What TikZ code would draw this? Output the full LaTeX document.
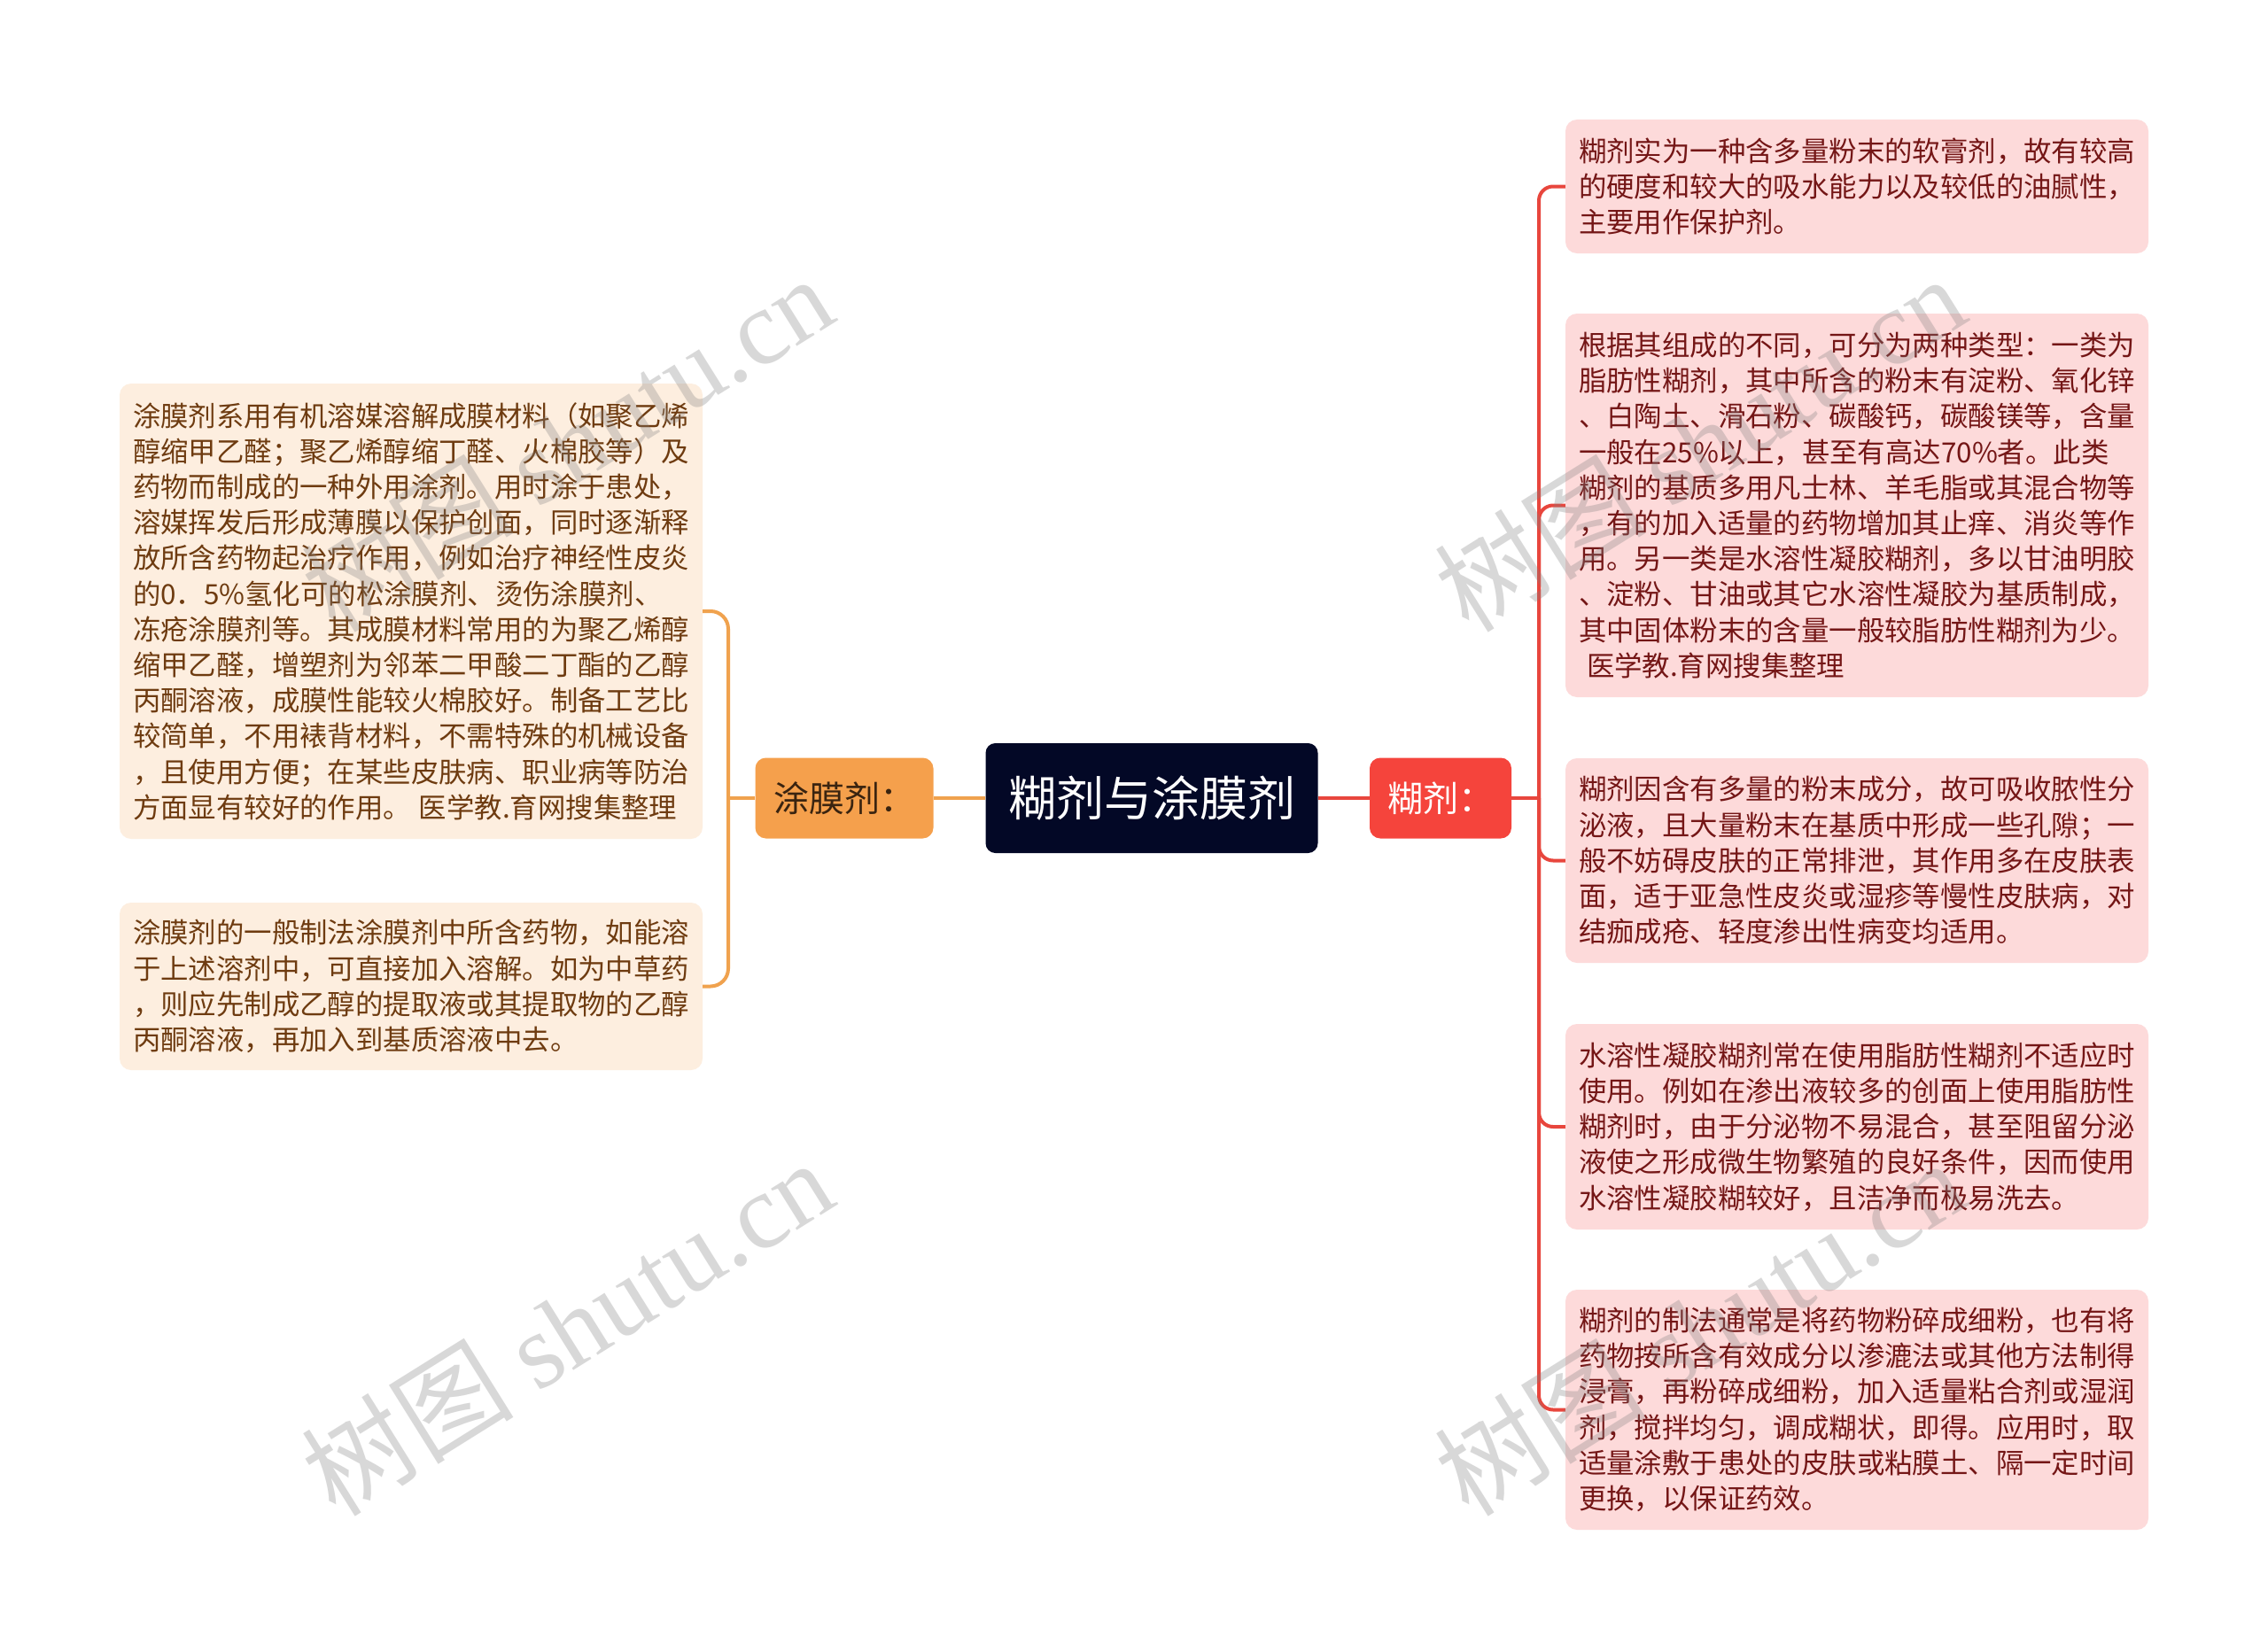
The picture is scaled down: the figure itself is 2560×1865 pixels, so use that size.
\documentclass[tikz,border=0pt]{standalone}
\usepackage{fontspec}
\setmainfont{Noto Sans CJK SC}
\newfontfamily\wmserif{Liberation Serif}
\begin{document}
\begin{tikzpicture}[x=1pt,y=-1pt,
  redline/.style={draw=lineRed,line width=4pt},
  orgline/.style={draw=lineOrg,line width=4pt},
  rbox/.style={fill=boxPink,rounded corners=13pt,minimum width=658pt,text width=628pt,inner xsep=15pt,inner ysep=0pt,align=left,text=txtRed,font=\fontsize{31.4pt}{40.2pt}\selectfont},
  lbox/.style={fill=boxPeach,rounded corners=13pt,minimum width=658pt,text width=628pt,inner xsep=15pt,inner ysep=0pt,align=left,text=txtBrown,font=\fontsize{31.4pt}{40.2pt}\selectfont},
  wm/.style={rotate=32,text=gray,opacity=0.3,font=\fontsize{120pt}{125pt}\selectfont}
]
\definecolor{lineRed}{HTML}{E8463D}
\definecolor{lineOrg}{HTML}{F0A24E}
\definecolor{boxPink}{HTML}{FDDADA}
\definecolor{boxPeach}{HTML}{FDEEDF}
\definecolor{txtRed}{HTML}{741616}
\definecolor{txtBrown}{HTML}{6E3B10}
\definecolor{centerFill}{HTML}{030826}
\definecolor{orgFill}{HTML}{F5A04C}
\definecolor{redFill}{HTML}{F5443C}
\definecolor{orgText}{HTML}{3A2410}

\path[use as bounding box,fill=white] (0,0) rectangle (2560,1865);

% central and branch nodes
\node[fill=centerFill,rounded corners=11pt,minimum width=375pt,minimum height=124pt,text=white,font=\fontsize{54pt}{60pt}\selectfont] (c) at (1300,901) {糊剂与涂膜剂};
\node[fill=orgFill,rounded corners=12pt,minimum width=201pt,minimum height=91pt,text=orgText,font=\fontsize{40pt}{46pt}\selectfont] (tmj) at (953,901) {涂膜剂：};
\node[fill=redFill,rounded corners=12pt,minimum width=160pt,minimum height=91pt,text=white,font=\fontsize{40pt}{46pt}\selectfont] (hj) at (1626,901) {糊剂：};

% right boxes
\node[rbox,minimum height=151pt] (r1) at (2096,210.5) {糊剂实为一种含多量粉末的软膏剂，故有较高\\的硬度和较大的吸水能力以及较低的油腻性，\\主要用作保护剂。};
\node[rbox,minimum height=433pt] (r2) at (2096,570.5) {根据其组成的不同，可分为两种类型：一类为\\脂肪性糊剂，其中所含的粉末有淀粉、氧化锌\\、白陶土、滑石粉、碳酸钙，碳酸镁等，含量\\一般在25\%以上，甚至有高达70\%者。此类\\糊剂的基质多用凡士林、羊毛脂或其混合物等\\，有的加入适量的药物增加其止痒、消炎等作\\用。另一类是水溶性凝胶糊剂，多以甘油明胶\\、淀粉、甘油或其它水溶性凝胶为基质制成，\\其中固体粉末的含量一般较脂肪性糊剂为少。\\\hspace*{9pt}医学教.育网搜集整理};
\node[rbox,minimum height=231pt] (r3) at (2096,971.5) {糊剂因含有多量的粉末成分，故可吸收脓性分\\泌液，且大量粉末在基质中形成一些孔隙；一\\般不妨碍皮肤的正常排泄，其作用多在皮肤表\\面，适于亚急性皮炎或湿疹等慢性皮肤病，对\\结痂成疮、轻度渗出性病变均适用。};
\node[rbox,minimum height=232pt] (r4) at (2096,1272) {水溶性凝胶糊剂常在使用脂肪性糊剂不适应时\\使用。例如在渗出液较多的创面上使用脂肪性\\糊剂时，由于分泌物不易混合，甚至阻留分泌\\液使之形成微生物繁殖的良好条件，因而使用\\水溶性凝胶糊较好，且洁净而极易洗去。};
\node[rbox,minimum height=271pt] (r5) at (2096,1591.5) {糊剂的制法通常是将药物粉碎成细粉，也有将\\药物按所含有效成分以渗漉法或其他方法制得\\浸膏，再粉碎成细粉，加入适量粘合剂或湿润\\剂，搅拌均匀，调成糊状，即得。应用时，取\\适量涂敷于患处的皮肤或粘膜土、隔一定时间\\更换，以保证药效。};

% left boxes
\node[lbox,minimum height=514pt] (l1) at (464,690) {涂膜剂系用有机溶媒溶解成膜材料（如聚乙烯\\醇缩甲乙醛；聚乙烯醇缩丁醛、火棉胶等）及\\药物而制成的一种外用涂剂。用时涂于患处，\\溶媒挥发后形成薄膜以保护创面，同时逐渐释\\放所含药物起治疗作用，例如治疗神经性皮炎\\的0．5\%氢化可的松涂膜剂、烫伤涂膜剂、\\冻疮涂膜剂等。其成膜材料常用的为聚乙烯醇\\缩甲乙醛，增塑剂为邻苯二甲酸二丁酯的乙醇\\丙酮溶液，成膜性能较火棉胶好。制备工艺比\\较简单，不用裱背材料，不需特殊的机械设备\\，且使用方便；在某些皮肤病、职业病等防治\\方面显有较好的作用。\hspace{9pt}医学教.育网搜集整理};
\node[lbox,minimum height=189pt] (l2) at (464,1113.5) {涂膜剂的一般制法涂膜剂中所含药物，如能溶\\于上述溶剂中，可直接加入溶解。如为中草药\\，则应先制成乙醇的提取液或其提取物的乙醇\\丙酮溶液，再加入到基质溶液中去。};

% connectors
\coordinate (rj) at (1737,901);
\coordinate (lj) at (822,901);
\draw[orgline] (c.west) -- (tmj.east);
\draw[redline] (c.east) -- (hj.west);
\draw[redline] (hj.east) -- (rj);
\foreach \n in {r1,r2,r3,r4,r5}{
  \draw[redline,rounded corners=16pt] (rj) |- (\n.west);
}
\draw[orgline] (tmj.west) -- (lj);
\foreach \n in {l1,l2}{
  \draw[orgline,rounded corners=20pt] (lj) |- (\n.east);
}

% watermarks
\node[wm] (w1) at (640,500) {树图 {\wmserif shutu.cn}};
\node[wm] (w2) at (640,1498) {树图 {\wmserif shutu.cn}};
\node[wm] (w3) at (1918,500) {树图 {\wmserif shutu.cn}};
\node[wm] (w4) at (1918,1498) {树图 {\wmserif shutu.cn}};
\end{tikzpicture}
\end{document}
